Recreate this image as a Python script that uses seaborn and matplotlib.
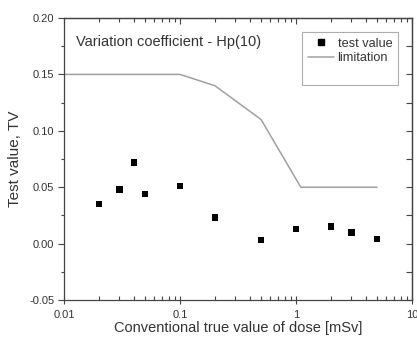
import matplotlib
matplotlib.use("Agg")
import matplotlib.pyplot as plt
import matplotlib.ticker as mticker
from matplotlib.lines import Line2D
import seaborn as sns
import pandas as pd

# Measured test values (coefficient of variation) per dose level
dose = [0.02, 0.03, 0.04, 0.05, 0.1, 0.2, 0.5, 1, 2, 3, 5]
test_value = [0.035, 0.048, 0.072, 0.044, 0.051, 0.023, 0.003, 0.013, 0.015, 0.010, 0.004]

# Acceptance limit curve
limit_dose = [0.01, 0.1, 0.2, 0.5, 1.1, 5]
limit_value = [0.15, 0.15, 0.14, 0.11, 0.05, 0.05]

sns.set_style("ticks")
plt.rcParams["font.family"] = ["Liberation Sans", "DejaVu Sans"]
txt = "#333333"

fig = plt.figure(figsize=(4.17, 3.38), dpi=100)
ax = fig.add_axes([0.1535, 0.1124, 0.8345, 0.8343])

pts = pd.DataFrame({"dose": dose, "tv": test_value})
lim = pd.DataFrame({"dose": limit_dose, "tv": limit_value})

sns.lineplot(data=lim, x="dose", y="tv", ax=ax, color="#a0a0a0", lw=1.1,
             estimator=None, sort=False)
sns.scatterplot(data=pts, x="dose", y="tv", ax=ax, marker="s", color="black",
                s=22, edgecolor="none", zorder=3)

ax.set_xscale("log")
ax.set_xlim(0.01, 10)
ax.set_ylim(-0.05, 0.20)
ax.set_xticks([0.01, 0.1, 1, 10])
ax.xaxis.set_major_formatter(mticker.FixedFormatter(["0.01", "0.1", "1", "10"]))
ax.xaxis.set_minor_locator(mticker.LogLocator(base=10, subs=range(2, 10), numticks=20))
ax.xaxis.set_minor_formatter(mticker.NullFormatter())
ax.set_yticks([-0.05, 0.0, 0.05, 0.10, 0.15, 0.20])
ax.set_yticklabels(["-0.05", "0.00", "0.05", "0.10", "0.15", "0.20"])
ax.yaxis.set_minor_locator(mticker.MultipleLocator(0.025))

tick_col = "#444444"
ax.tick_params(which="both", colors=tick_col, labelcolor=txt, labelsize=8, width=0.8)
# left axis: outward ticks
ax.tick_params(axis="y", which="both", direction="out", left=True, right=False)
ax.tick_params(axis="y", which="major", length=4, pad=3)
ax.tick_params(axis="y", which="minor", length=2.5)
# bottom axis: crossing major ticks, inward minor ticks
ax.tick_params(axis="x", which="major", direction="inout", length=6, pad=4)
ax.tick_params(axis="x", which="minor", direction="in", length=3)
for sp in ax.spines.values():
    sp.set_color(tick_col)
    sp.set_linewidth(0.9)

# mirrored inward ticks on the top and right edges
sec_x = ax.secondary_xaxis("top")
sec_x.set_xticks([0.01, 0.1, 1, 10])
sec_x.xaxis.set_minor_locator(mticker.LogLocator(base=10, subs=range(2, 10), numticks=20))
sec_x.tick_params(which="both", direction="in", labeltop=False, colors=tick_col, width=0.8)
sec_x.tick_params(which="major", length=4)
sec_x.tick_params(which="minor", length=3)
sec_x.xaxis.set_major_formatter(mticker.NullFormatter())
sec_x.xaxis.set_minor_formatter(mticker.NullFormatter())
sec_x.spines["top"].set_color(tick_col)
sec_x.spines["top"].set_linewidth(0.9)

sec_y = ax.secondary_yaxis("right")
sec_y.set_yticks([-0.05, 0.0, 0.05, 0.10, 0.15, 0.20])
sec_y.yaxis.set_minor_locator(mticker.MultipleLocator(0.025))
sec_y.tick_params(which="both", direction="in", labelright=False, colors=tick_col, width=0.8)
sec_y.tick_params(which="major", length=4)
sec_y.tick_params(which="minor", length=4)
sec_y.spines["right"].set_color(tick_col)
sec_y.spines["right"].set_linewidth(0.9)

ax.set_xlabel("Conventional true value of dose [mSv]", fontsize=10.5, color=txt, labelpad=1)
ax.set_ylabel("Test value, TV", fontsize=11, color=txt, labelpad=5)

ax.text(0.035, 0.915, "Variation coefficient - Hp(10)", transform=ax.transAxes,
        fontsize=10.5, color=txt, va="center", ha="left")

handles = [
    Line2D([], [], marker="s", color="black", lw=0, markersize=4.5),
    Line2D([], [], color="#a0a0a0", lw=1.1),
    Line2D([], [], color="none", lw=0),
]
leg = ax.legend(handles, ["test value", "limitation", ""], loc="upper right",
                bbox_to_anchor=(0.96, 0.95), fontsize=9.2, frameon=True,
                fancybox=False, edgecolor="#999999", borderpad=0.45,
                handlelength=2.0, handletextpad=0.3, labelspacing=0.2,
                borderaxespad=0)
leg.get_frame().set_linewidth(0.8)
for t in leg.get_texts():
    t.set_color(txt)

fig.savefig("out.png", dpi=100)
